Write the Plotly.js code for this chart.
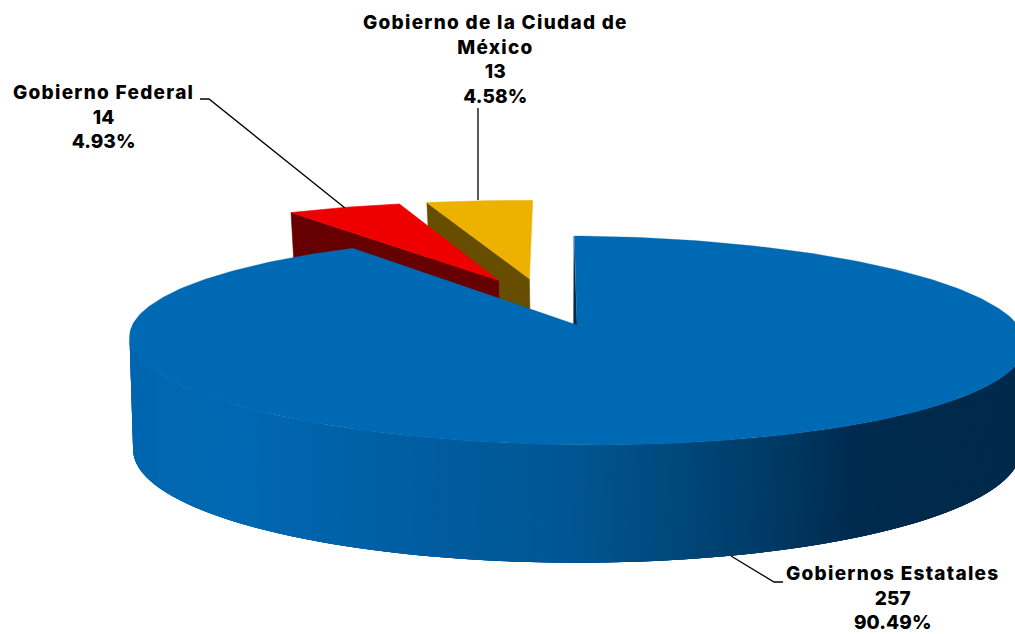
<!DOCTYPE html>
<html><head><meta charset="utf-8">
<script src="https://cdn.plot.ly/plotly-3.0.1.min.js"></script>
<style>html,body{margin:0;padding:0;background:#fff;overflow:hidden}#c{width:1015px;height:634px}
.annotation-text .line{letter-spacing:0.1px}
.annotation-text .line:nth-last-child(n+3){letter-spacing:1.28px}</style>
</head><body><div id="c"></div>
<script>
const categories = ["Gobiernos Estatales", "Gobierno Federal", "Gobierno de la Ciudad de<br>México"];
const values = [257, 14, 13];
const percents = ["90.49%", "4.93%", "4.58%"];

// Perspective disc: projects a unit-disc point (a, b) into the plot's axis units.
const top3d = {cx:577, cy:325, rx:443, ry:102.2, p:0.148, skew:3, yskew:3};
const bot3d = {cx:577, cy:433, rx:439, ry:110.5, p:0.148, skew:0, yskew:0};
function proj(m, a, b){ const w = 1 + m.p*b;
  return [m.cx + m.rx*a/w - m.skew*b/w, m.cy - m.ry*b/w + m.yskew*a/w]; }

// Explosion offset and horizontal stretch of each slice on the disc
const explode = [[0,0],[-0.186,0.46],[-0.112,0.482]];
const stretch = [1,1.02,1.02];
const topColors = ["#0069b3", "#ee0000", "#edb200"];
const sideColors = ["#00294a", "#660000", "#674d00"];
// Shading of the long outer wall: position along x, rgb
const wallStops = [[130,[0,102,175]],[240,[0,104,178]],[300,[0,100,172]],[430,[0,93,160]],[582,[0,85,145]],[695,[0,70,120]],[790,[0,56,98]],[860,[0,42,78]],[1030,[0,41,74]]];
function wallColor(x){
  for(let i=1;i<wallStops.length;i++){ const s0=wallStops[i-1], s1=wallStops[i];
    if(x<=s1[0]){ const t=Math.max(0,(x-s0[0])/(s1[0]-s0[0]));
      const c=s0[1].map((v,k)=>Math.round(v+(s1[1][k]-v)*t)); return `rgb(${c})`; } }
  return `rgb(${wallStops[wallStops.length-1][1]})`;
}

const total = values.reduce((s,v)=>s+v,0);
// clockwise angle from 12 o'clock -> disc coordinates
const dir = f => [Math.sin(2*Math.PI*f), Math.cos(2*Math.PI*f)];
let acc = 0;
const slices = values.map((v,i)=>{ const s = {start:acc/total, end:(acc+v)/total, off:explode[i], sx:stretch[i]}; acc+=v; return s; });

const traces = [];
function poly(pts,color,lw){
  traces.push({type:"scatter",mode:"lines",x:pts.map(p=>p[0]),y:pts.map(p=>p[1]),fill:"toself",
    fillcolor:color,line:{color:color,width:lw===undefined?0.6:lw},hoverinfo:"skip",showlegend:false});
}
function topFace(s){
  const pts=[proj(top3d,s.off[0],s.off[1])];
  const n=Math.max(8,Math.round((s.end-s.start)*360));
  for(let k=0;k<=n;k++){ const d=dir(s.start+(s.end-s.start)*k/n);
    pts.push(proj(top3d,d[0]*s.sx+s.off[0],d[1]+s.off[1])); }
  pts.push(pts[0]);
  return pts;
}
[2,1].forEach(i=>{ const s=slices[i], d=dir(s.start);
  const A=[s.off[0],s.off[1]], B=[d[0]*s.sx+s.off[0],d[1]+s.off[1]];
  poly([proj(top3d,A[0],A[1]),proj(top3d,B[0],B[1]),proj(bot3d,B[0],B[1]),proj(bot3d,A[0],A[1]),proj(top3d,A[0],A[1])],sideColors[i]);
  poly(topFace(s),topColors[i]);
});
// Main slice: outer wall; each strip overlaps the next so later strips paint over the seams.
const N=220, f0=0.272, f1=0.728;
for(let k=0;k<N;k++){
  const a=dir(f0+(f1-f0)*k/N);
  const mid=proj(top3d,a[0],a[1]);
  const pts=[];
  for(let j=k;j<=Math.min(N,k+4);j++){ const d=dir(f0+(f1-f0)*j/N); pts.push(proj(top3d,d[0],d[1])); }
  for(let j=Math.min(N,k+4);j>=k;j--){ const d=dir(f0+(f1-f0)*j/N); pts.push(proj(bot3d,d[0],d[1])); }
  pts.push(pts[0]);
  poly(pts,wallColor(mid[0]),0);
}
// Main slice: sliver of the cut face at 12 o'clock
const apex=proj(top3d,0,0), st=proj(top3d,...dir(0));
poly([[st[0]-0.5,st[1]],[apex[0]-3.5,apex[1]],apex,[st[0]-0.5,st[1]]],sideColors[0],0.3);
poly(topFace(slices[0]),topColors[0],0.3);

const labelPos=[[892,597.5],[103,117],[495,59.5]];
const annotations=values.map((v,i)=>({x:labelPos[i][0],y:labelPos[i][1],xref:"x",yref:"y",xanchor:"center",yanchor:"middle",
  showarrow:false,align:"center",text:`${categories[i]}<br>${v}<br>${percents[i]}`,
  font:{family:"Inter, 'Open Sans', sans-serif",size:19,weight:800,color:"#000"}}));

const leaders=[[[731,556],[774,582],[783,582]],[[200,99],[209,99],[345,208]],[[478,108],[478,200]]];
const shapes=leaders.map(l=>({type:"path",xref:"x",yref:"y",layer:"above",
  path:"M"+l.map(p=>p.join(",")).join("L"),line:{color:"#000",width:1.3},fillcolor:"rgba(0,0,0,0)"}));

Plotly.newPlot("c",traces,{
  width:1015,height:634,margin:{l:0,r:0,t:0,b:0},paper_bgcolor:"#fff",plot_bgcolor:"#fff",showlegend:false,
  xaxis:{range:[0,1015],visible:false,fixedrange:true},
  yaxis:{range:[634,0],visible:false,fixedrange:true},
  annotations,shapes
},{displayModeBar:false,staticPlot:true});
</script></body></html>
